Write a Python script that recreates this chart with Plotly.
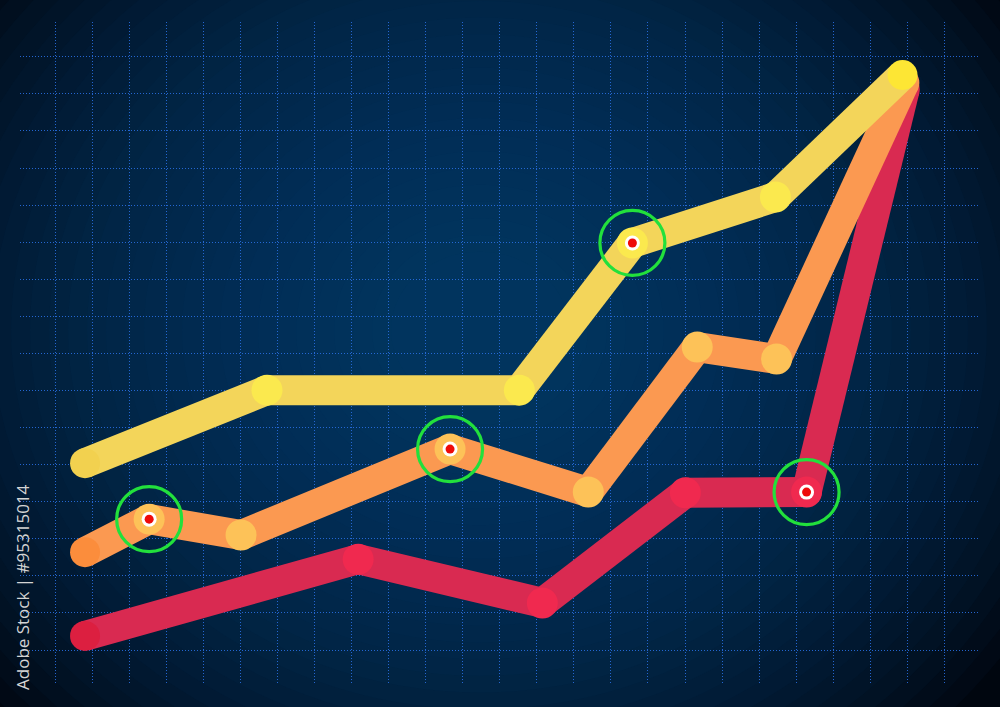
import plotly.graph_objects as go

# ---- data (grid units) ----
yellow_x = [0.81, 5.72, 12.53, 15.58, 19.44, 22.87]
yellow_y = [5.04, 7.01, 7.01, 10.98, 12.22, 15.51]
orange_x = [0.81, 2.54, 5.02, 10.66, 14.39, 17.33, 19.47, 22.92]
orange_y = [2.64, 3.53, 3.10, 5.42, 4.26, 8.17, 7.85, 15.30]
red_x = [0.81, 8.18, 13.15, 17.01, 20.28, 22.93]
red_y = [0.38, 2.45, 1.27, 4.24, 4.26, 15.12]
highlights = [("orange", 1), ("orange", 3), ("yellow", 3), ("red", 4)]

series = {
    "red": dict(x=red_x, y=red_y, line="#d92a51", cap="#dc1f40", vertex="#f0294f"),
    "orange": dict(x=orange_x, y=orange_y, line="#fb9951", cap="#fb8d3c", vertex="#fdc258"),
    "yellow": dict(x=yellow_x, y=yellow_y, line="#f3d55a", cap="#f2d14f", vertex="#fbe94e"),
}


def segments(xs, ys):
    sx, sy = [], []
    for i in range(len(xs) - 1):
        sx += [xs[i], xs[i + 1], None]
        sy += [ys[i], ys[i + 1], None]
    return sx, sy


W, H = 1000, 707
L, R, T, B = 20, 20, 22, 24
PW, PH = W - L - R, H - T - B

fig = go.Figure()

LW = 30
for name in ["red", "orange", "yellow"]:
    s = series[name]
    sx, sy = segments(s["x"], s["y"])
    fig.add_trace(go.Scatter(x=sx, y=sy, mode="lines", connectgaps=False,
                             line=dict(color=s["line"], width=LW),
                             hoverinfo="skip", showlegend=False))
    fig.add_trace(go.Scatter(x=s["x"][:1], y=s["y"][:1], mode="markers",
                             marker=dict(size=LW, color=s["cap"], line=dict(width=0)),
                             hoverinfo="skip", showlegend=False))
    fig.add_trace(go.Scatter(x=s["x"][1:-1], y=s["y"][1:-1], mode="markers",
                             marker=dict(size=LW + 1, color=s["vertex"], line=dict(width=0)),
                             hoverinfo="skip", showlegend=False))
    end_col = "#fde634" if name == "yellow" else s["line"]
    fig.add_trace(go.Scatter(x=s["x"][-1:], y=s["y"][-1:], mode="markers",
                             marker=dict(size=LW, color=end_col, line=dict(width=0)),
                             hoverinfo="skip", showlegend=False))

hx = [series[n]["x"][i] for n, i in highlights]
hy = [series[n]["y"][i] for n, i in highlights]
fig.add_trace(go.Scatter(x=hx, y=hy, mode="markers",
                         marker=dict(size=15, color="#ffffff", line=dict(width=0)),
                         hoverinfo="skip", showlegend=False))
fig.add_trace(go.Scatter(x=hx, y=hy, mode="markers",
                         marker=dict(size=9, color="#ee0a0a", line=dict(width=0)),
                         hoverinfo="skip", showlegend=False))
fig.add_trace(go.Scatter(x=hx, y=hy, mode="markers",
                         marker=dict(size=65, color="rgba(0,0,0,0)",
                                     line=dict(width=3.2, color="#22e03c")),
                         hoverinfo="skip", showlegend=False))

# ---- radial background glow ----
shapes = []
cx, cy = 480, 330
n = 30
for k in range(n):
    rx = 640 - k * 19
    ry = rx * 0.88
    shapes.append(dict(type="circle", xref="paper", yref="paper", layer="below",
                       x0=(cx - rx - L) / PW, x1=(cx + rx - L) / PW,
                       y0=(H - B - (cy + ry)) / PH, y1=(H - B - (cy - ry)) / PH,
                       fillcolor="#0a3d7a", opacity=0.06, line=dict(width=0)))

grid = dict(showgrid=True, dtick=1, tick0=0, gridcolor="rgba(40,110,225,0.9)",
            gridwidth=1, griddash="1px,2px", showticklabels=False,
            zeroline=False, showline=False, ticks="", fixedrange=True)

fig.update_layout(
    width=W, height=H,
    margin=dict(l=L, r=R, t=T, b=B),
    paper_bgcolor="#00060f",
    plot_bgcolor="rgba(0,0,0,0)",
    xaxis=dict(range=[-0.945, 24.96], **grid),
    yaxis=dict(range=[-0.89, 16.94], **grid),
    shapes=shapes,
    showlegend=False,
    hovermode=False,
    annotations=[dict(text="Adobe Stock | #95315014", textangle=-90,
                      xref="paper", yref="paper",
                      x=(22 - L) / PW, y=(H - B - 587) / PH,
                      xanchor="center", yanchor="middle", showarrow=False,
                      font=dict(family="Open Sans", size=17, color="#d4d4d4"))],
)

fig.write_html("out.html", config={"displayModeBar": False},
               post_script="document.body.style.margin='0px';document.body.style.overflow='hidden';")
